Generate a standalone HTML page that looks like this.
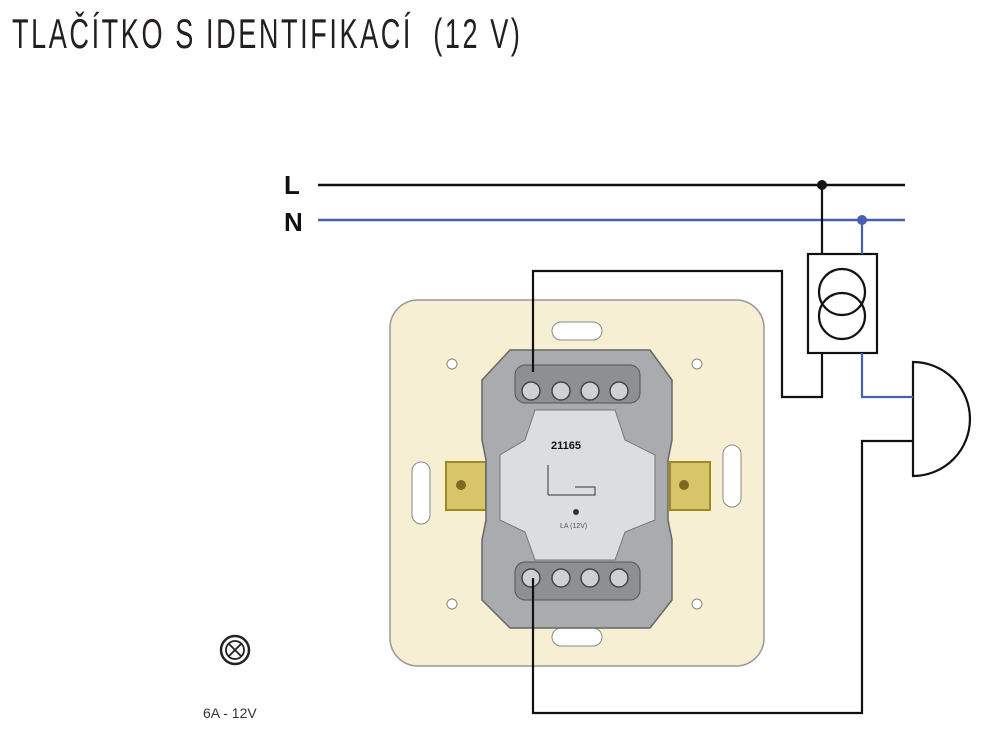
<!DOCTYPE html>
<html><head><meta charset="utf-8"><style>
html,body{margin:0;padding:0;background:#fff;width:1000px;height:747px;overflow:hidden}
.t{position:absolute;left:12px;top:10px;font-family:"Liberation Sans",sans-serif;font-size:42px;color:#231f20;letter-spacing:4px;transform:scaleX(0.645);transform-origin:left top;white-space:nowrap}
</style></head><body>
<div class="t">TLAČÍTKO S IDENTIFIKACÍ&nbsp;&nbsp;(12 V)</div>
<svg width="1000" height="747" style="position:absolute;left:0;top:0">
<text x="284" y="194" font-family="Liberation Sans" font-weight="bold" font-size="26" fill="#111">L</text>
<text x="284" y="231" font-family="Liberation Sans" font-weight="bold" font-size="26" fill="#111">N</text>
<line x1="318" y1="185" x2="905" y2="185" stroke="#111" stroke-width="2.5"/>
<line x1="318" y1="220" x2="905" y2="220" stroke="#4a5fb0" stroke-width="2.5"/>
<rect x="390" y="300" width="374" height="366" rx="28" fill="#f6efd4" stroke="#999" stroke-width="1.5"/>
<rect x="552" y="322" width="50" height="18" rx="9" fill="#fff" stroke="#888"/>
<rect x="552" y="628" width="50" height="18" rx="9" fill="#fff" stroke="#888"/>
<rect x="412" y="462" width="18" height="62" rx="9" fill="#fff" stroke="#888"/>
<rect x="723" y="445" width="18" height="62" rx="9" fill="#fff" stroke="#888"/>
<circle cx="452" cy="364" r="5" fill="#fff" stroke="#888"/><circle cx="697" cy="364" r="5" fill="#fff" stroke="#888"/>
<circle cx="452" cy="604" r="5" fill="#fff" stroke="#888"/><circle cx="697" cy="604" r="5" fill="#fff" stroke="#888"/>
<rect x="446" y="462" width="40" height="48" fill="#d8c56a" stroke="#a08a20" stroke-width="2"/>
<rect x="670" y="462" width="40" height="48" fill="#d8c56a" stroke="#a08a20" stroke-width="2"/>
<circle cx="461" cy="485" r="5" fill="#7a6a20"/><circle cx="684" cy="485" r="5" fill="#7a6a20"/>
<path d="M510 350 L650 350 L672 380 L672 440 L668 460 L668 520 L672 540 L672 600 L650 628 L510 628 L482 600 L482 540 L486 520 L486 460 L482 440 L482 380 Z" fill="#a9abae" stroke="#666" stroke-width="1.5"/>
<path d="M535 410 L615 410 L625 440 L655 455 L655 520 L625 532 L615 560 L535 560 L525 532 L500 520 L500 455 L525 440 Z" fill="#dcdde0" stroke="#777"/>
<rect x="515" y="365" width="125" height="38" rx="10" fill="#8d8f92" stroke="#555"/>
<rect x="515" y="562" width="125" height="38" rx="10" fill="#8d8f92" stroke="#555"/>
<g fill="#cfd0d2" stroke="#444" stroke-width="1.5">
<circle cx="531" cy="391" r="9"/><circle cx="561" cy="391" r="9"/><circle cx="590" cy="391" r="9"/><circle cx="619" cy="391" r="9"/>
<circle cx="531" cy="578" r="9"/><circle cx="561" cy="578" r="9"/><circle cx="590" cy="578" r="9"/><circle cx="619" cy="578" r="9"/>
</g>
<text x="551" y="449" font-family="Liberation Sans" font-weight="bold" font-size="11" fill="#111">21165</text>
<path d="M548 465 L548 495 M548 495 L595 495 L595 487 L575 487" fill="none" stroke="#333"/>
<circle cx="576" cy="512" r="3" fill="#333"/>
<text x="560" y="528" font-family="Liberation Sans" font-size="7" fill="#555">LA (12V)</text>
<g fill="none" stroke="#111" stroke-width="2.2">
<polyline points="533,372 533,271 782,271 782,397 822,397 822,353"/>
<line x1="822" y1="185" x2="822" y2="254"/>
<polyline points="533,578 533,713 862,713 862,441 913,441"/>
<rect x="808" y="254" width="69" height="99"/>
<circle cx="842" cy="292" r="23"/><circle cx="842" cy="316" r="23"/>
<path d="M913 362 L913 476 A57 57 0 0 0 913 362 Z"/>
</g>
<g fill="none" stroke="#4a5fb0" stroke-width="2.2">
<line x1="862" y1="220" x2="862" y2="254"/>
<polyline points="862,353 862,397 913,397"/>
</g>
<circle cx="822" cy="185" r="5" fill="#111"/>
<circle cx="862" cy="220" r="5" fill="#4a5fb0"/>
<circle cx="235" cy="650" r="14" fill="none" stroke="#222" stroke-width="2.5"/>
<circle cx="235" cy="650" r="9" fill="none" stroke="#222" stroke-width="1.8"/>
<path d="M229 644 L241 656 M241 644 L229 656" stroke="#222" stroke-width="1.8"/>
<text x="203" y="718" font-family="Liberation Sans" font-size="14" fill="#333">6A - 12V</text>
</svg>
</body></html>
